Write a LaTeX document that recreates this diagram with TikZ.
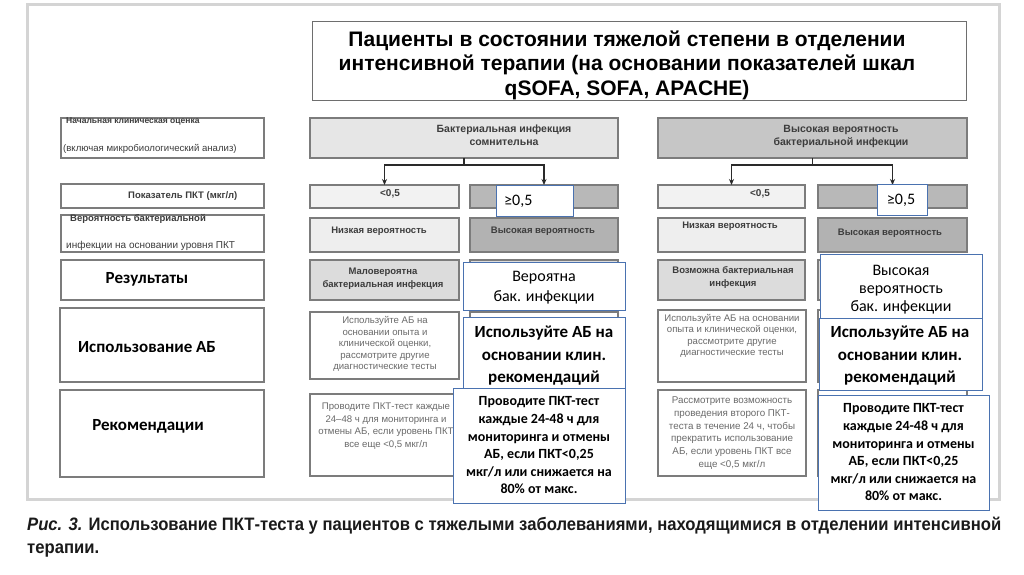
\documentclass[tikz,border=0pt]{standalone}
\usepackage{fontspec}
\setmainfont{Liberation Sans}
\newfontfamily\calfont{Carlito}
\newfontfamily\capfont[FakeStretch=0.925]{Liberation Sans}
\usetikzlibrary{arrows.meta}
\definecolor{framec}{HTML}{D4D4D4}
\definecolor{tline}{HTML}{6E6E6E}
\definecolor{gline}{HTML}{7C7C7C}
\definecolor{blueb}{HTML}{4A72B0}
\definecolor{stext}{HTML}{3C3C3C}
\definecolor{dtext}{HTML}{6A6A6A}
\definecolor{conc}{HTML}{2A2A2A}
\definecolor{capc}{HTML}{1A1A1A}
\definecolor{fa}{HTML}{E6E6E6}
\definecolor{fb}{HTML}{C6C6C6}
\definecolor{fc}{HTML}{F2F2F2}
\definecolor{fd}{HTML}{B8B8B8}
\definecolor{fe}{HTML}{EEEEEE}
\definecolor{ff}{HTML}{B2B2B2}
\definecolor{fg}{HTML}{DCDCDC}
\newcommand\bx[7]{\node[#2, minimum width={#5pt-#3pt}, minimum height={#6pt-#4pt}] (#1) at (#3,#4) {#7};}
\tikzset{
  framebox/.style={draw=framec, line width=3pt, inner sep=0pt, outer sep=0pt, anchor=north west},
  titlebox/.style={draw=tline, line width=1pt, fill=white, inner sep=0pt, outer sep=0pt, anchor=north west},
  titletxt/.style={font=\bfseries\fontsize{21}{24.5}\selectfont, align=center, inner sep=0pt, text=black},
  gbox/.style={draw=gline, line width=1.1pt, inner sep=0pt, outer sep=0pt, anchor=north west},
  stxt/.style={font=\bfseries\fontsize{9.5}{13}\selectfont, text=stext, align=center, inner sep=0pt},
  ltxt/.style={font=\fontsize{9.6}{11}\selectfont, text=stext, inner sep=0pt},
  dtxt/.style={font=\fontsize{9.6}{11.5}\selectfont, text=dtext, align=center, inner sep=0pt},
  lbl/.style={font=\calfont\bfseries\fontsize{17}{20}\selectfont, inner sep=0pt},
  bbox/.style={draw=blueb, line width=0.9pt, fill=white, inner sep=0pt, outer sep=0pt, anchor=north west, align=center, font=\calfont\fontsize{16}{18}\selectfont},
  bboxc/.style={bbox, font=\calfont\bfseries\fontsize{14}{17.6}\selectfont},
  btxt/.style={font=\calfont\fontsize{16}{18}\selectfont, inner sep=0pt, align=center},
  bbtxt/.style={font=\calfont\bfseries\fontsize{17}{22.5}\selectfont, inner sep=0pt, align=center},
  link/.style={draw=conc, line width=1.3pt},
  arr/.style={link, -{Stealth[length=6pt,width=5pt]}},
  captxt/.style={font=\capfont\bfseries\fontsize{18}{23}\selectfont, align=left, inner sep=0pt, text=capc},
}
\begin{document}
\begin{tikzpicture}[x=1pt,y=-1pt]
\useasboundingbox (0,0) rectangle (1024,574);
\fill[white] (0,0) rectangle (1024,574);
% frame and title
\bx{frame}{framebox}{27}{4}{999}{499}{}
\bx{title}{titlebox}{312}{21}{966}{100}{}
\node[titletxt] (titletext) at (627,65) {Пациенты в состоянии тяжелой степени в отделении\\интенсивной терапии (на основании показателей шкал\\qSOFA, SOFA, APACHE)};
% left column
\bx{la}{gbox,fill=white}{61}{118}{264}{158}{}
\node[ltxt,font=\bfseries\fontsize{8.5}{10}\selectfont,anchor=west] (la1) at (66,121) {Начальная клиническая оценка};
\node[ltxt,anchor=west] (la2) at (63,149) {(включая микробиологический анализ)};
\bx{lb}{gbox,fill=white}{61}{184}{264}{208}{}
\node[stxt,anchor=west] (lb1) at (128,196) {Показатель ПКТ (мкг/л)};
\bx{lc}{gbox,fill=white}{61}{215}{264}{252}{}
\node[stxt,anchor=west] (lc1) at (70,219) {Вероятность бактериальной};
\node[ltxt,font=\fontsize{10}{11}\selectfont,anchor=west] (lc2) at (66,246) {инфекции на основании уровня ПКТ};
\bx{ld}{gbox,fill=white}{61}{260}{264}{300}{}
\node[lbl] (ld1) at (147,279) {Результаты};
\bx{le}{gbox,fill=white}{60}{308}{264}{382}{}
\node[lbl] (le1) at (147,347) {Использование АБ};
\bx{lf}{gbox,fill=white}{60}{390}{264}{477}{}
\node[lbl] (lf1) at (148,426) {Рекомендации};
% column 2
\bx{h1}{gbox,fill=fa}{310}{118}{618}{158}{}
\node[stxt,font=\bfseries\fontsize{10.5}{13}\selectfont] (h1t) at (504,135) {Бактериальная инфекция\\сомнительна};
\bx{lo1}{gbox,fill=fc}{310}{185}{459}{208}{}
\node[stxt,font=\bfseries\fontsize{10}{12}\selectfont] (lo1t) at (390,194) {<0,5};
\bx{hi1}{gbox,fill=fd}{470}{185}{618}{208}{}
\bx{lp1}{gbox,fill=fe}{310}{218}{459}{252}{}
\node[stxt] (lp1t) at (379,231) {Низкая вероятность};
\bx{hp1}{gbox,fill=ff}{470}{218}{618}{252}{}
\node[stxt] (hp1t) at (543,231) {Высокая вероятность};
\bx{rl1}{gbox,fill=fg}{310}{260}{459}{300}{}
\node[stxt] (rl1t) at (383,279) {Маловероятна\\бактериальная инфекция};
\bx{rh1}{gbox,fill=fg}{470}{260}{618}{300}{}
\bx{ul1}{gbox,fill=white}{310}{312}{459}{379}{}
\node[dtxt] (ul1t) at (385,344) {Используйте АБ на\\основании опыта и\\клинической оценки,\\рассмотрите другие\\диагностические тесты};
\bx{uh1}{gbox,fill=white}{470}{312}{618}{379}{}
\bx{pl1}{gbox,fill=white}{310}{394}{459}{476}{}
\node[dtxt,font=\fontsize{9.6}{12.5}\selectfont] (pl1t) at (386,426) {Проводите ПКТ-тест каждые\\24–48 ч для мониторинга и\\отмены АБ, если уровень ПКТ\\все еще <0,5 мкг/л};
\bx{ph1}{gbox,fill=white}{470}{390}{618}{477}{}
% column 4
\bx{h2}{gbox,fill=fb}{658}{118}{967}{158}{}
\node[stxt,font=\bfseries\fontsize{10.5}{13}\selectfont] (h2t) at (841,136) {Высокая вероятность\\бактериальной инфекции};
\bx{lo2}{gbox,fill=fc}{658}{185}{805}{208}{}
\node[stxt,font=\bfseries\fontsize{10}{12}\selectfont] (lo2t) at (760,194) {<0,5};
\bx{hi2}{gbox,fill=fd}{818}{185}{967}{208}{}
\bx{lp2}{gbox,fill=fe}{658}{218}{805}{252}{}
\node[stxt] (lp2t) at (730,226) {Низкая вероятность};
\bx{hp2}{gbox,fill=ff}{818}{218}{967}{252}{}
\node[stxt] (hp2t) at (890,233) {Высокая вероятность};
\bx{rl2}{gbox,fill=fg}{658}{260}{805}{300}{}
\node[stxt] (rl2t) at (733,277) {Возможна бактериальная\\инфекция};
\bx{rh2}{gbox,fill=fg}{818}{260}{967}{300}{}
\bx{ul2}{gbox,fill=white}{658}{310}{806}{382}{}
\node[dtxt] (ul2t) at (732,336) {Используйте АБ на основании\\опыта и клинической оценки,\\рассмотрите другие\\диагностические тесты};
\bx{uh2}{gbox,fill=white}{818}{310}{967}{382}{}
\bx{pl2}{gbox,fill=white}{658}{390}{806}{476}{}
\node[dtxt,font=\fontsize{9.8}{12.8}\selectfont] (pl2t) at (732,433) {Рассмотрите возможность\\проведения второго ПКТ-\\теста в течение 24 ч, чтобы\\прекратить использование\\АБ, если уровень ПКТ все\\еще <0,5 мкг/л};
\bx{ph2}{gbox,fill=white}{818}{390}{967}{476}{}
% connectors
\draw[link] (h1.south) -- ++(0,7) coordinate (k1);
\draw[arr] (k1) -| (lo1.north);
\draw[arr] (k1) -| (hi1.north);
\draw[link] (h2.south) -- ++(0,7) coordinate (k2);
\draw[arr] (k2) -| (lo2.north);
\draw[arr] (k2) -| (hi2.north);
% blue overlays
\bx{ge1}{bbox}{496}{185}{573}{216}{}
\node[btxt,anchor=west] (ge1t) at (504,201) {≥0,5};
\bx{ge2}{bbox}{877}{184}{927}{215}{}
\node[btxt] (ge2t) at (901,200) {≥0,5};
\bx{pr1}{bbox}{463}{262}{625}{310}{}
\node[btxt,font=\calfont\fontsize{16}{20}\selectfont] (pr1t) at (544,288) {Вероятна\\бак. инфекции};
\bx{pr2}{bbox}{820}{254}{982}{318}{}
\node[btxt] (pr2t) at (901,290) {Высокая\\вероятность\\бак. инфекции};
\bx{us1}{bbox}{463}{317}{625}{390}{}
\node[bbtxt] (us1t) at (544,356) {Используйте АБ на\\основании клин.\\рекомендаций};
\bx{us2}{bbox}{819}{318}{982}{390}{}
\node[bbtxt] (us2t) at (900,356) {Используйте АБ на\\основании клин.\\рекомендаций};
\bx{pc1}{bboxc}{453}{388}{625}{503}{Проводите ПКТ-тест\\каждые 24-48 ч для\\мониторинга и отмены\\АБ, если ПКТ<0,25\\мкг/л или снижается на\\80\% от макс.}
\bx{pc2}{bboxc}{818}{395}{989}{510}{Проводите ПКТ-тест\\каждые 24-48 ч для\\мониторинга и отмены\\АБ, если ПКТ<0,25\\мкг/л или снижается на\\80\% от макс.}
% caption
\node[captxt,anchor=west] (cap) at (27,537) {\textit{Рис. 3.} Использование ПКТ-теста у пациентов с тяжелыми заболеваниями, находящимися в отделении интенсивной\\терапии.};
\end{tikzpicture}
\end{document}
